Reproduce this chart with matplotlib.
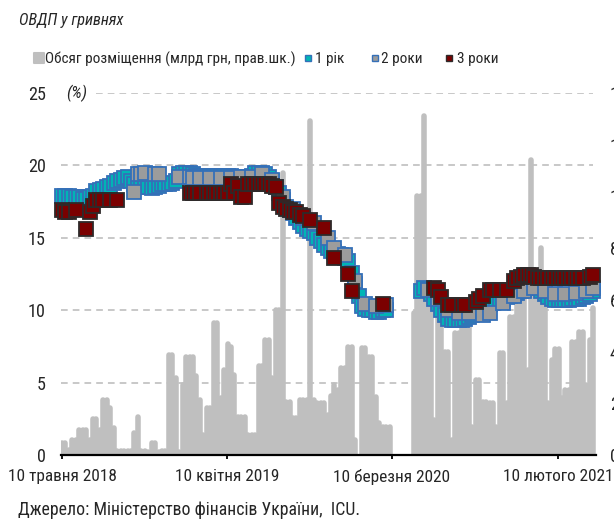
import numpy as np
import pandas as pd
import matplotlib
matplotlib.use("Agg")
import matplotlib.pyplot as plt
import matplotlib.dates as mdates
from matplotlib.lines import Line2D
from matplotlib.markers import MarkerStyle
from matplotlib import font_manager


def pick_font():
    """Prefer a narrow sans face; fall back to the regular one."""
    fl = font_manager.fontManager.ttflist
    names = {f.name for f in fl}
    for name in ["Liberation Sans Narrow", "Roboto Condensed", "Noto Sans Condensed",
                 "Open Sans Condensed", "DejaVu Sans Condensed", "Arial Narrow"]:
        if name in names:
            return name, "normal"
    for f in fl:
        if f.name in ("Noto Sans", "Roboto", "Open Sans", "DejaVu Sans", "Liberation Sans") \
                and f.stretch in ("condensed", "semi-condensed", "extra-condensed") \
                and f.style == "normal" and f.weight in ("normal", 400, "regular", "book"):
            return f.name, f.stretch
    return "Liberation Sans", "normal"


FONT, STRETCH = pick_font()
plt.rcParams["font.family"] = [FONT, "DejaVu Sans"]
plt.rcParams["font.stretch"] = STRETCH

nan = np.nan

# weekly auction calendar
weeks = pd.date_range("2018-05-10", periods=155, freq="7D")

# placement volume, UAH bn (right axis), one value per week
volume = [
    0.47, 0.47, 0.19, 0.58, 0.58, 0.97, 0.97, 0.97, 0.58, 1.38,
    1.38, 0.97, 2.12, 2.12, 1.80, 1.04, 0.17, 0.17, 0.17, 0.17,
    0.17, 0.86, 1.47, 0.17, 0.17, 0.10, 0.47, 0.47, 0.10, 0.17,
    0.17, 3.86, 3.86, 2.97, 0.10, 2.70, 3.78, 3.78, 3.78, 3.05,
    2.12, 0.77, 1.83, 1.83, 5.10, 5.10, 2.20, 3.28, 4.28, 4.18,
    3.09, 1.47, 1.47, 1.47, 0.77, 0.77, 0.77, 3.45, 3.45, 4.44,
    4.44, 2.97, 5.60, 5.60, 10.90, 2.06, 2.06, 1.43, 1.43, 2.12,
    2.12, 2.12, 12.90, 2.12, 2.00, 2.00, 2.00, 1.54, 2.30, 2.70,
    2.50, 3.36, 3.36, 4.18, 4.18, 0.58, 0.00, 4.13, 4.13, 3.80,
    3.80, 2.25, 1.23, 1.08, 1.08, 1.08, 0.00, 0.00, 0.00, 0.00,
    0.00, 0.00, 5.48, 10.00, 10.00, 13.10, 6.50, 6.50, 1.35, 6.20,
    6.20, 3.99, 3.99, 0.58, 4.70, 4.70, 5.34, 5.34, 5.34, 1.10,
    2.90, 2.90, 2.06, 2.06, 2.00, 2.00, 1.10, 3.95, 3.95, 2.00,
    5.34, 5.34, 6.10, 6.10, 6.10, 3.30, 11.40, 6.00, 6.00, 8.00,
    6.00, 2.00, 3.67, 4.10, 4.10, 2.20, 2.50, 2.50, 4.37, 4.37,
    4.76, 4.76, 2.70, 4.44, 5.70,
]

# 1-year yield, %, one value per week (nan = no placement)
yield_1y = [
    17.9, 17.9, 17.9, 17.8, 17.8, 17.8, 17.7, 17.7, 17.8, 17.9,
    18.2, 18.3, 18.4, 18.5, 18.6, 18.8, 18.9, 19.0, 19.1, 19.2,
    18.9, 18.7, 18.5, 18.5, 18.5, 18.5, 18.45, 18.5, 18.6, 18.75,
    18.75, 18.75, 18.8, 18.9, 19.4, 19.5, 19.5, 19.5, 19.4, 19.3,
    19.3, 19.3, 19.3, 19.3, 19.3, 19.3, 19.3, 19.3, 19.3, 19.3,
    19.2, 19.2, 19.2, 19.2, 19.2, 19.3, 19.5, 19.5, 19.5, 19.4,
    19.2, 18.9, 18.5, 18.1, 17.6, 17.1, 16.9, 16.7, 16.4, 16.1,
    15.8, 15.6, 15.5, 15.3, 15.0, 14.8, 14.5, 14.3, 14.1, 14.0,
    13.9, 13.8, 13.6, 13.4, 12.6, 11.8, 11.0, 10.3, 10.1, 10.0,
    10.0, 9.9, 9.9, 10.0, 10.0, nan, nan, nan, nan, nan,
    nan, nan, nan, nan, 11.3, 11.5, 11.4, 11.1, 10.8, 10.4,
    10.0, 9.7, 9.4, 9.3, 9.3, 9.3, 9.3, 9.4, 9.5, 9.7,
    9.9, 10.1, 10.2, 10.3, 10.4, 10.5, 10.6, 10.7, 10.8, 10.9,
    11.0, 11.1, 11.2, 11.3, 11.4, 11.5, 11.6, 11.6, 11.5, 11.3,
    11.1, 10.9, 10.8, 10.7, 10.7, 10.7, 10.7, 10.7, 10.8, 10.8,
    10.8, 10.9, 11.0, 11.1, 11.3,
]

# 2-year yield, %: week number and value
y2_week = [21, 22, 23, 24, 27, 28, 34, 37, 38, 40, 43, 46, 49, 52, 55, 58, 61,
           64, 67, 70, 73, 77, 79, 82, 85, 88, 91, 94,
           106, 109, 112, 115, 118, 122, 124, 128, 131, 134, 137, 140, 143,
           146, 149, 152, 154]
y2_val = [18.15, 19.4, 19.4, 19.5, 19.4, 19.4, 19.2, 19.2, 19.1, 19.1, 19.1,
          19.1, 19.1, 19.2, 19.2, 19.4, 19.0,
          17.8, 17.0, 16.4, 16.0, 15.0, 14.3, 13.8, 12.0, 10.4, 10.3, 10.35,
          11.4, 10.8, 10.0, 9.8, 9.8, 9.7, 9.8, 10.5, 11.0, 11.3, 11.5, 11.3,
          11.1, 11.1, 11.2, 11.3, 11.5]

# 3-year yield, %: week number and value
y3_week = [0, 1, 2, 4, 7, 8, 9, 10, 11, 12, 14, 16,
           37, 38, 39, 40, 42, 43, 44, 45, 46, 47, 48, 49, 50, 51, 52, 53,
           54, 55, 56, 57, 58, 59, 60, 61, 62, 63, 64, 65, 66, 67, 68, 69,
           70, 72, 76, 79, 83, 84, 93,
           108, 109, 110, 112, 113, 116, 117, 120, 121, 122, 124, 125, 127,
           129, 131, 132, 133, 134, 135, 136, 137, 138, 139, 140, 141, 142,
           143, 144, 145, 146, 147, 148, 149, 150, 151, 153, 154]
y3_val = [16.9, 16.8, 16.8, 16.9, 15.6, 16.8, 17.2, 17.6, 17.6, 17.6, 17.6, 17.6,
          18.1, 18.1, 18.1, 18.1, 18.1, 18.1, 18.1, 18.1, 18.1, 18.1, 18.1,
          18.75, 18.1, 18.6, 17.8, 17.8,
          18.7, 18.7, 18.7, 18.7, 18.7, 18.7, 18.7, 18.55, 18.5, 17.4, 17.1,
          17.0, 16.9, 16.8, 16.8, 16.6,
          16.5, 16.2, 15.7, 13.6, 12.5, 11.3, 10.4,
          11.5, 11.4, 10.9, 10.35, 10.35, 10.35, 10.35, 10.6, 10.8, 11.0, 11.4,
          11.4, 11.4, 11.4, 12.0, 12.2, 12.3, 12.4, 12.4, 12.4, 12.3, 12.25,
          12.25, 12.2, 12.25, 12.2, 12.25, 12.2, 12.25, 12.2, 12.2, 12.25,
          12.2, 12.2, 12.2, 12.3, 12.4]

tick_dates = ["2018-05-10", "2019-04-10", "2020-03-10", "2021-02-10"]
tick_labels = ["10 травня 2018", "10 квітня 2019", "10 березня 2020", "10 лютого 2021"]
left_ticks = [0, 5, 10, 15, 20, 25]
right_ticks = [0, 2, 4, 6, 8, 10, 12, 14]
legend_labels = ["Обсяг розміщення (млрд грн, прав.шк.)", "1 рік", "2 роки", "3 роки"]
title = "ОВДП у гривнях"
source = "Джерело: Міністерство фінансів України,  ICU."

TXT = "#262626"
BAR = "#BFBFBF"
GRID = "#C4C4C4"
C1_FACE, C1_EDGE = "#00B5B5", "#3570B8"
C2_FACE, C2_EDGE = "#9C9C9C", "#3570B8"
C3_FACE, C3_EDGE = "#7B0000", "#2E2A2A"

W, H = 614, 520
L, R, B, T = 61, 596, 455, 93
fig = plt.figure(figsize=(W / 100, H / 100), dpi=100)
_rend = fig.canvas.get_renderer()


def fit_size(s, target_px, base=13.0, cap=14.0, **kw):
    """Font size at which string s spans about target_px pixels."""
    t = fig.text(0, 0, s, fontsize=base, **kw)
    w = t.get_window_extent(renderer=_rend).width
    t.remove()
    return min(cap, base * target_px / w)


FS_LEG = fit_size(legend_labels[0], 248)
FS_X = fit_size(tick_labels[1], 104)
FS_Y = fit_size("25", 18)
FS_SRC = fit_size(source, 340)
FS_TITLE = fit_size(title, 104, style="italic")
FS_PCT = fit_size("(%)", 21, style="italic")

ax = fig.add_axes([L / W, 1 - B / H, (R - L) / W, (B - T) / H])
ax2 = ax.twinx()
ax.set_zorder(ax2.get_zorder() + 1)
ax.patch.set_visible(False)

xdates = mdates.date2num(weeks.to_pydatetime())

# volume columns (right axis)
vol = np.array(volume)
has = vol > 0
ax2.vlines(xdates[has], 0, vol[has], colors=BAR, linewidths=4.0,
           capstyle="round", zorder=2)

# dashed horizontal grid for the left scale, behind the columns
for v in left_ticks[1:]:
    xs = (96 - L) / (R - L) if v == 25 else 0.0
    ax2.plot([xs, 0.995], [v, v], transform=ax.get_yaxis_transform(),
             color=GRID, lw=1.3, ls=(0, (3.7, 2.8)), zorder=1)

# yields (left axis)
mk = dict(ls="none", marker="s", ms=9.6, mew=1.3, clip_on=False)
ax.plot(xdates, yield_1y, mfc=C1_FACE, mec=C1_EDGE, zorder=3, **mk)
ax.plot(xdates[y2_week], y2_val, mfc=C2_FACE, mec=C2_EDGE, zorder=4, **mk)
ax.plot(xdates[y3_week], y3_val, mfc=C3_FACE, mec=C3_EDGE, zorder=5, **mk)

ax.set_xlim(mdates.date2num(pd.Timestamp("2018-05-08")),
            mdates.date2num(pd.Timestamp("2021-04-28")))
ax.set_ylim(0, 25)
ax2.set_ylim(0, 14)

for s in ax.spines.values():
    s.set_visible(False)
for s in ax2.spines.values():
    s.set_visible(False)
ax.spines["bottom"].set_visible(True)
ax.spines["bottom"].set_color("black")
ax.spines["bottom"].set_linewidth(1.6)

ax.set_xticks(mdates.date2num(pd.to_datetime(tick_dates).to_pydatetime()))
ax.set_xticklabels(tick_labels)
ax.tick_params(axis="x", length=3.2, width=1.3, color="black", pad=7,
               labelsize=FS_X, labelcolor=TXT)
ax.set_yticks(left_ticks)
ax.tick_params(axis="y", length=0, pad=11, labelsize=FS_Y, labelcolor=TXT)
ax2.set_yticks(right_ticks)
ax2.tick_params(axis="y", length=0, pad=10, labelsize=FS_Y, labelcolor=TXT)

ax.text((66 - L) / (R - L), 25, "(%)", transform=ax.get_yaxis_transform(),
        ha="left", va="center", fontsize=FS_PCT, style="italic", color=TXT)

fig.text(19 / W, 1 - 25 / H, title, ha="left", va="baseline",
         fontsize=FS_TITLE, style="italic", color=TXT)
fig.text(18 / W, 1 - 515 / H, source, ha="left", va="baseline",
         fontsize=FS_SRC, color=TXT)

# legend row: swatch centre x and text start x, in pixels
legend_y = 58
legend_handles = [
    dict(marker=MarkerStyle("s", joinstyle="round"), ms=7.5, mfc=BAR, mec=BAR, mew=1.5),
    dict(marker="s", ms=5, mfc=C1_FACE, mec=C1_EDGE, mew=1),
    dict(marker="s", ms=5, mfc=C2_FACE, mec=C2_EDGE, mew=1),
    dict(marker="s", ms=5, mfc=C3_FACE, mec=C3_EDGE, mew=1),
]
swatch_x = [39, 308, 375, 449]
text_x = [45, 315, 381, 457]
for hx, tx, lab, st in zip(swatch_x, text_x, legend_labels, legend_handles):
    fig.add_artist(Line2D([hx / W], [1 - legend_y / H], ls="none",
                          transform=fig.transFigure, **st))
    fig.text(tx / W, 1 - legend_y / H, lab, ha="left", va="center_baseline",
             fontsize=FS_LEG, color=TXT)

fig.savefig("out.png", dpi=100)
